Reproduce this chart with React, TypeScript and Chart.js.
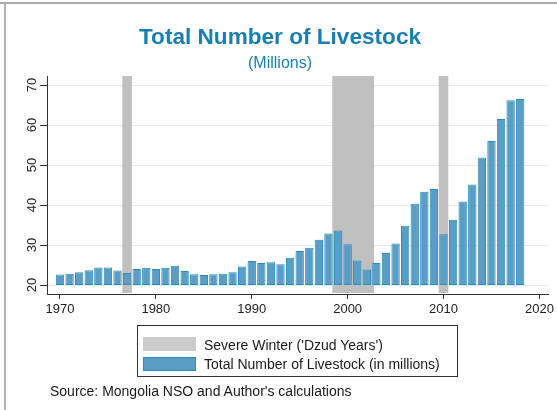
import { useEffect, useRef } from "react";
import { Chart, registerables } from "chart.js";

Chart.register(...registerables);

const years = [
  1970, 1971, 1972, 1973, 1974, 1975, 1976, 1977, 1978, 1979,
  1980, 1981, 1982, 1983, 1984, 1985, 1986, 1987, 1988, 1989,
  1990, 1991, 1992, 1993, 1994, 1995, 1996, 1997, 1998, 1999,
  2000, 2001, 2002, 2003, 2004, 2005, 2006, 2007, 2008, 2009,
  2010, 2011, 2012, 2013, 2014, 2015, 2016, 2017, 2018,
];
const livestock = [
  22.6, 22.8, 23.2, 23.7, 24.4, 24.4, 23.6, 23.0, 24.0, 24.3,
  24.0, 24.3, 24.8, 23.5, 22.7, 22.5, 22.7, 22.8, 23.2, 24.6,
  26.0, 25.5, 25.7, 25.2, 26.8, 28.5, 29.3, 31.3, 32.9, 33.6,
  30.2, 26.1, 23.9, 25.5, 28.0, 30.4, 34.8, 40.3, 43.3, 44.0,
  32.7, 36.3, 40.9, 45.1, 51.9, 56.0, 61.5, 66.2, 66.5,
];
const dzudStart = [1976.5, 1998.4, 2009.5];
const dzudEnd = [1977.5, 2002.75, 2010.5];
const xTicks = [1970, 1980, 1990, 2000, 2010, 2020];
const yTicks = [20, 30, 40, 50, 60, 70];
const barBase = 20;

const FONT = '"Liberation Sans", Arial, Helvetica, sans-serif';
const TITLE_COLOR = "#1a7fb0";
const BAR_FILL = "#5a9ec5";
const BAR_EDGE = "#2a8cbf";

export default function App() {
  const ref = useRef<HTMLCanvasElement>(null);

  useEffect(() => {
    const canvas = ref.current;
    if (!canvas) return;

    const dzudPlugin = {
      id: "dzudBands",
      beforeDatasetsDraw(chart: any) {
        const { ctx, chartArea, scales } = chart;
        const x = scales.x;
        ctx.save();
        ctx.fillStyle = "#c0c0c0";
        dzudStart.forEach((s, i) => {
          const x0 = x.getPixelForValue(s);
          const x1 = x.getPixelForValue(dzudEnd[i]);
          ctx.fillRect(x0, chartArea.top, x1 - x0, chartArea.bottom - chartArea.top - 1);
        });
        ctx.restore();
      },
    };

    const yLabelPlugin = {
      id: "rotatedYLabels",
      afterDraw(chart: any) {
        const { ctx, scales } = chart;
        const y = scales.y;
        ctx.save();
        ctx.font = `13px ${FONT}`;
        ctx.fillStyle = "#222";
        ctx.textAlign = "center";
        ctx.textBaseline = "middle";
        y.ticks.forEach((t: any) => {
          const py = y.getPixelForValue(t.value);
          ctx.save();
          ctx.translate(y.right - 15, py);
          ctx.rotate(-Math.PI / 2);
          ctx.fillText(String(t.value), 0, 0);
          ctx.restore();
        });
        ctx.restore();
      },
    };

    const chart = new Chart(canvas, {
      type: "bar",
      data: {
        datasets: [
          {
            label: "Total Number of Livestock (in millions)",
            data: years.map((yr, i) => ({ x: yr, y: [barBase, livestock[i]] })) as any,
            backgroundColor: BAR_FILL,
            borderColor: BAR_EDGE,
            borderWidth: 1,
            borderSkipped: false,
            barPercentage: 0.87,
            categoryPercentage: 1,
          },
        ],
      },
      options: {
        responsive: false,
        animation: false,
        devicePixelRatio: 1,
        layout: { padding: { left: 3, right: 0, top: 0, bottom: 0 } },
        plugins: {
          legend: { display: false },
          tooltip: { enabled: false },
          title: {
            display: true,
            text: "Total Number of Livestock",
            color: TITLE_COLOR,
            font: { size: 22.6, weight: "bold", family: FONT, lineHeight: 1.2 },
            padding: { top: 24, bottom: 1.6 },
          },
          subtitle: {
            display: true,
            text: "(Millions)",
            color: TITLE_COLOR,
            font: { size: 16, weight: "normal", family: FONT, lineHeight: 1.2 },
            padding: { top: 1.6, bottom: 2.5 },
          },
        },
        scales: {
          x: {
            type: "linear",
            offset: false,
            min: 1968.646,
            max: 2020.94,
            afterBuildTicks: (s: any) => {
              s.ticks = xTicks.map((v) => ({ value: v }));
            },
            afterFit: (s: any) => {
              s.height = 116;
            },
            grid: {
              offset: false,
              drawOnChartArea: false,
              drawTicks: true,
              tickLength: 5,
              tickColor: "#333",
            },
            border: { color: "#333", width: 1 },
            ticks: {
              font: { size: 13, family: FONT },
              color: "#222",
              padding: 3,
              maxRotation: 0,
              autoSkip: false,
              callback: (v: any) => String(v),
            },
          },
          y: {
            type: "linear",
            min: 17.75,
            max: 72.25,
            afterBuildTicks: (s: any) => {
              s.ticks = yTicks.map((v) => ({ value: v }));
            },
            afterFit: (s: any) => {
              s.width = 44;
            },
            grid: {
              color: "#e4ecef",
              drawTicks: true,
              tickLength: 7,
              tickColor: "#333",
            },
            border: { color: "#333", width: 1 },
            ticks: { display: false },
          },
          yRightMargin: {
            type: "linear",
            position: "right",
            display: true,
            min: 0,
            max: 1,
            afterFit: (s: any) => {
              s.width = 8;
            },
            grid: { display: false, drawTicks: false },
            border: { display: false },
            ticks: { display: false },
          },
        },
      } as any,
      plugins: [dzudPlugin, yLabelPlugin],
    });

    return () => chart.destroy();
  }, []);

  const textStyle: any = {
    position: "absolute",
    fontFamily: FONT,
    fontSize: 14,
    lineHeight: "18px",
    color: "#1a1a1a",
    whiteSpace: "nowrap",
  };

  return (
    <div
      style={{
        position: "absolute",
        left: 0,
        top: 0,
        width: 557,
        height: 410,
        background: "#fff",
        overflow: "hidden",
      }}
    >
      <canvas
        ref={ref}
        width={557}
        height={410}
        style={{ position: "absolute", left: 0, top: 0, width: 557, height: 410 }}
      />
      <div style={{ position: "absolute", left: 0, top: 2, width: 557, height: 2, background: "#a9a9a9" }} />
      <div style={{ position: "absolute", left: 4, top: 3, width: 2, height: 407, background: "#b3b3b3" }} />
      <div
        style={{
          position: "absolute",
          left: 137,
          top: 325,
          width: 321,
          height: 52,
          boxSizing: "border-box",
          border: "1px solid #333",
          background: "#fff",
        }}
      >
        <div style={{ position: "absolute", left: 5, top: 11, width: 53, height: 14, background: "#cccccc" }} />
        <div
          style={{
            position: "absolute",
            left: 5,
            top: 31,
            width: 53,
            height: 14,
            boxSizing: "border-box",
            background: BAR_FILL,
            border: `1px solid ${BAR_EDGE}`,
          }}
        />
        <div style={{ ...textStyle, left: 66, top: 10 }}>Severe Winter ('Dzud Years')</div>
        <div style={{ ...textStyle, left: 66, top: 28.5 }}>Total Number of Livestock (in millions)</div>
      </div>
      <div style={{ ...textStyle, left: 50, top: 382 }}>Source: Mongolia NSO and Author's calculations</div>
    </div>
  );
}
